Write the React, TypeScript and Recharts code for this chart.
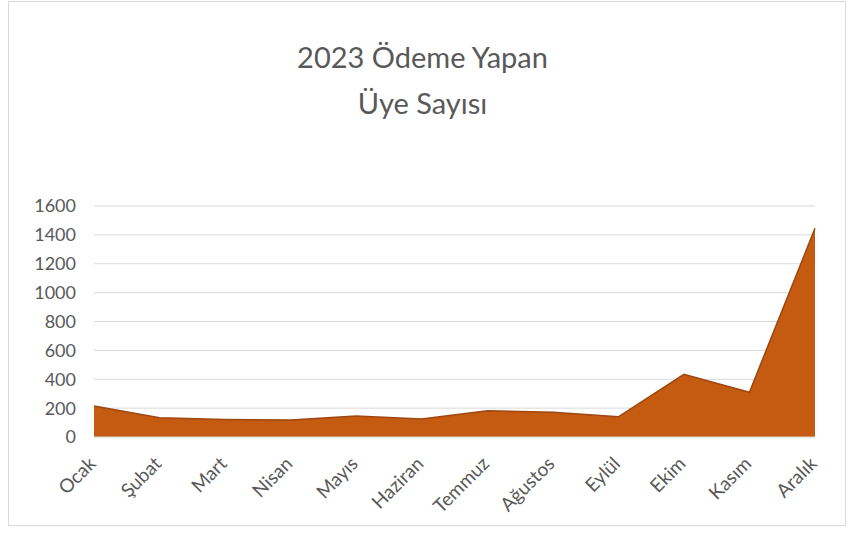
import React from "react";
import { AreaChart, Area, XAxis, YAxis, CartesianGrid } from "recharts";

const months = ["Ocak", "Şubat", "Mart", "Nisan", "Mayıs", "Haziran", "Temmuz", "Ağustos", "Eylül", "Ekim", "Kasım", "Aralık"];
const members = [215, 133, 122, 118, 145, 125, 182, 171, 140, 434, 310, 1445];
const yTicks = [0, 200, 400, 600, 800, 1000, 1200, 1400, 1600];
const titleLines = ["2023 Ödeme Yapan", "Üye Sayısı"];

const data = months.map((m, i) => ({ month: m, value: members[i] }));

const FONT = "Lato, 'Open Sans', sans-serif";
const GRAY = "#595959";

const RotTick = (props: any) => {
  const { x, y, payload } = props;
  const tx = x + 3;
  const ty = y + 20;
  return (
    <text
      x={tx}
      y={ty}
      transform={`rotate(-45 ${tx} ${ty})`}
      textAnchor="end"
      fill={GRAY}
      fontSize={19}
      fontFamily={FONT}
    >
      {payload.value}
    </text>
  );
};

export default function App() {
  return (
    <div style={{ position: "absolute", left: 0, top: 0, width: 851, height: 548, background: "#fff" }}>
      <div
        style={{
          position: "absolute",
          left: 8,
          top: 1,
          width: 838,
          height: 525,
          border: "1px solid #d9d9d9",
          boxSizing: "border-box",
        }}
      />
      {titleLines.map((t, i) => (
        <div
          key={i}
          style={{
            position: "absolute",
            left: 0,
            width: 845,
            top: 40 + i * 46,
            textAlign: "center",
            fontFamily: FONT,
            fontSize: 29,
            lineHeight: "34px",
            color: GRAY,
          }}
        >
          {t}
        </div>
      ))}
      <div style={{ position: "absolute", left: 0, top: 0 }}>
        <AreaChart width={851} height={548} data={data} margin={{ top: 206, right: 36, bottom: 0, left: 0 }}>
          <CartesianGrid vertical={false} stroke="#d9d9d9" strokeWidth={1} />
          <XAxis
            dataKey="month"
            tick={<RotTick />}
            tickLine={false}
            axisLine={{ stroke: "#d9d9d9" }}
            interval={0}
            height={111}
          />
          <YAxis
            width={94}
            domain={[0, 1600]}
            ticks={yTicks}
            interval={0}
            tickLine={false}
            axisLine={false}
            tickMargin={12}
            tick={{ fill: GRAY, fontSize: 18, fontFamily: FONT }}
          />
          <Area
            type="linear"
            dataKey="value"
            stroke="#9E4710"
            strokeWidth={1.5}
            fill="#C55A11"
            fillOpacity={1}
            isAnimationActive={false}
          />
        </AreaChart>
      </div>
    </div>
  );
}
